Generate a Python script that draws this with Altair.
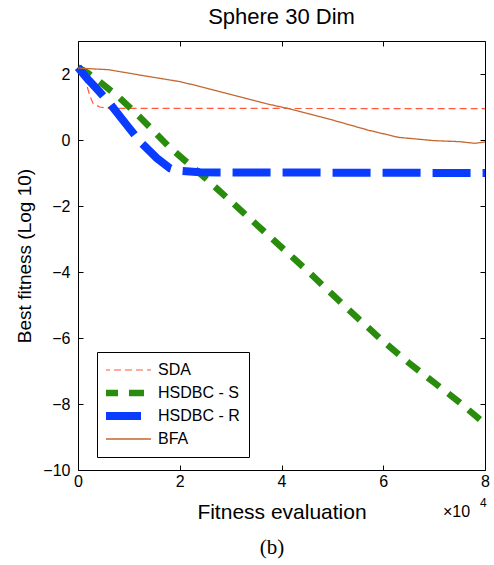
import altair as alt
import pandas as pd

# ---- data ----
sda_x = [0, 0.1, 0.17, 0.24, 0.3, 0.43, 0.6, 8]
sda_y = [2.2, 2.0, 1.67, 1.31, 1.1, 1.0, 0.96, 0.95]

hs_x = [0, 0.2, 0.4, 0.8, 1.2, 1.5, 1.8, 2.1, 2.5, 3.0, 3.5, 4.0, 4.5, 5.0, 5.5, 6.0, 6.5, 7.0, 7.5, 8.0]
hs_y = [2.2, 2.02, 1.8, 1.3, 0.72, 0.25, -0.22, -0.62, -1.15, -1.85, -2.55, -3.25, -3.95, -4.68, -5.4, -6.1, -6.75, -7.35, -7.95, -8.6]

hr_x = [0, 0.17, 0.4, 0.63, 0.96, 1.22, 1.55, 1.81, 1.95, 2.4, 8]
hr_y = [2.2, 1.88, 1.5, 1.1, 0.45, -0.05, -0.55, -0.86, -0.93, -0.98, -1.0]

bfa_x = [0, 0.6, 1.4, 2.0, 2.4, 3.0, 3.7, 4.2, 4.9, 5.7, 6.3, 7.0, 7.5, 7.8, 8.0]
bfa_y = [2.18, 2.13, 1.92, 1.77, 1.62, 1.38, 1.1, 0.93, 0.65, 0.3, 0.08, -0.02, -0.05, -0.1, -0.06]

series_names = ["SDA", "HSDBC - S", "HSDBC - R", "BFA"]
series_colors = ["#ff5a3c", "#2a8c0c", "#0a3cff", "#c4672f"]
series_dash = [[7, 4], [15, 11], [38, 12], [1, 0]]
series_width = [1.2, 6.5, 8, 1.3]

x_ticks = [0, 2, 4, 6, 8]
y_ticks = [-10, -8, -6, -4, -2, 0, 2]

rows = []
for name, xs, ys in [("SDA", sda_x, sda_y), ("HSDBC - S", hs_x, hs_y),
                     ("HSDBC - R", hr_x, hr_y), ("BFA", bfa_x, bfa_y)]:
    for i, (xv, yv) in enumerate(zip(xs, ys)):
        rows.append({"series": name, "x": xv, "y": yv, "order": i})
df = pd.DataFrame(rows)

FONT = "Liberation Sans"

xscale = alt.Scale(domain=[0, 8], nice=False, zero=False)
yscale = alt.Scale(domain=[-10, 3], nice=False, zero=False)

lines = alt.Chart(df).mark_line(strokeCap="butt", strokeJoin="miter").encode(
    x=alt.X("x:Q", scale=xscale,
            axis=alt.Axis(values=x_ticks, format="d", domain=False, grid=False,
                          tickSize=5, offset=-5, tickColor="black", labelPadding=3,
                          labelFlush=False, labelFontSize=16, labelColor="black",
                          labelFont=FONT, title="Fitness evaluation", titleFont=FONT,
                          titleFontSize=21, titleFontWeight="normal", titleColor="black",
                          titlePadding=12)),
    y=alt.Y("y:Q", scale=yscale,
            axis=alt.Axis(values=y_ticks, format="d", domain=False, grid=False,
                          tickSize=5, offset=-5, tickColor="black", labelPadding=8,
                          labelFlush=False, labelFontSize=16, labelColor="black",
                          labelFont=FONT, title="Best fitness (Log 10)", titleFont=FONT,
                          titleFontSize=19, titleFontWeight="normal", titleColor="black",
                          titlePadding=8)),
    color=alt.Color("series:N", title=None,
                    scale=alt.Scale(domain=series_names, range=series_colors),
                    sort=series_names),
    strokeDash=alt.StrokeDash("series:N", title=None,
                              scale=alt.Scale(domain=series_names, range=series_dash),
                              sort=series_names),
    strokeWidth=alt.StrokeWidth("series:N", title=None,
                                scale=alt.Scale(type="ordinal", domain=series_names,
                                                range=series_width),
                                sort=series_names),
    detail="series:N",
    order="order:Q",
)

# inward ticks on the top and right sides
ticks2 = alt.Chart(df).mark_point(opacity=0).encode(
    x=alt.X("x:Q", scale=xscale,
            axis=alt.Axis(orient="top", values=x_ticks, domain=False, grid=False,
                          labels=False, tickSize=5, offset=-5, tickColor="black",
                          title=None)),
    y=alt.Y("y:Q", scale=yscale,
            axis=alt.Axis(orient="right", values=y_ticks, domain=False, grid=False,
                          labels=False, tickSize=5, offset=-5, tickColor="black",
                          title=None)),
)

one = pd.DataFrame({"t": ["×10"], "e": ["4"], "b": ["(b)"]})
exp_base = alt.Chart(one).mark_text(align="left", baseline="alphabetic", font=FONT,
                                    fontSize=16, color="black").encode(
    text="t:N", x=alt.value(365), y=alt.value(476))
exp_sup = alt.Chart(one).mark_text(align="left", baseline="alphabetic", font=FONT,
                                   fontSize=12, color="black").encode(
    text="e:N", x=alt.value(402), y=alt.value(466))
label_b = alt.Chart(one).mark_text(align="center", baseline="alphabetic",
                                   font="Liberation Serif", fontSize=21,
                                   color="black").encode(
    text="b:N", x=alt.value(194), y=alt.value(513))

chart = alt.layer(lines, ticks2, exp_base, exp_sup, label_b).resolve_axis(
    x="independent", y="independent"
).properties(
    width=407, height=429,
    title=alt.TitleParams("Sphere 30 Dim", font=FONT, fontSize=22,
                          fontWeight="normal", color="black", offset=12),
    autosize=alt.AutoSizeParams(type="none"),
    padding={"left": 78, "top": 41, "right": 9, "bottom": 95},
    background="white",
).configure_view(
    stroke="black", strokeWidth=1
).configure_legend(
    orient="none", legendX=19, legendY=311,
    strokeColor="black", fillColor="white", padding=9,
    symbolType="M-6,0H6", symbolSize=64, symbolOffset=13,
    labelFont=FONT, labelFontSize=16, clipHeight=18,
    labelColor="black", labelOffset=23, rowPadding=5, cornerRadius=0,
)

chart.save("out.html", embed_options={"renderer": "svg", "actions": False})
